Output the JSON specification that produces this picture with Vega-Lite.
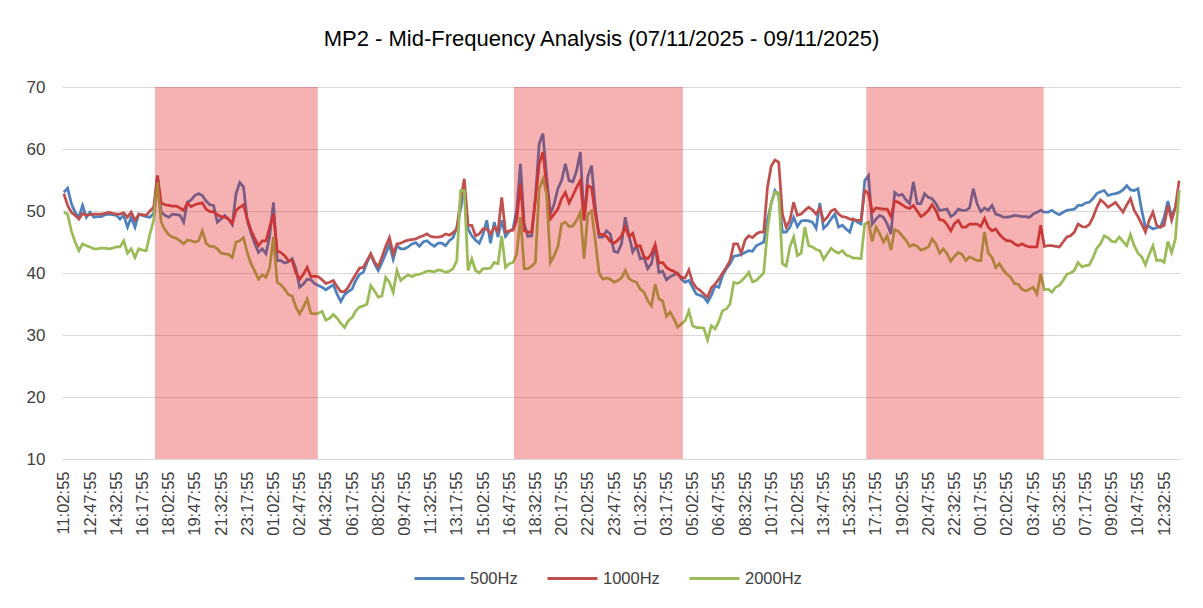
{
"$schema": "https://vega.github.io/schema/vega-lite/v6.json",
"width": 1119, "height": 372,
"autosize": {"type": "none"},
"padding": {"left": 62, "top": 87, "right": 22, "bottom": 149},
"background": "white",
"config": {"view": {"stroke": null}, "font": "Liberation Sans", "axis": {"labelOverlap": false}},
"title": {"text": "MP2 - Mid-Frequency Analysis (07/11/2025 - 09/11/2025)", "fontSize": 22, "fontWeight": "normal", "color": "#000000", "anchor": "middle", "dx": -20, "offset": 27},
"datasets": {
"lines": [
{"t":"2025-11-06T11:02:55","500Hz":53.0,"1000Hz":52.8,"2000Hz":49.8},
{"t":"2025-11-06T11:17:55","500Hz":53.7,"1000Hz":50.9,"2000Hz":49.5},
{"t":"2025-11-06T11:32:55","500Hz":51.2,"1000Hz":49.8,"2000Hz":46.8},
{"t":"2025-11-06T11:47:55","500Hz":49.8,"1000Hz":49.3,"2000Hz":45.0},
{"t":"2025-11-06T12:02:55","500Hz":49.0,"1000Hz":48.7,"2000Hz":43.6},
{"t":"2025-11-06T12:17:55","500Hz":50.9,"1000Hz":49.6,"2000Hz":44.7},
{"t":"2025-11-06T12:32:55","500Hz":49.0,"1000Hz":49.3,"2000Hz":44.4},
{"t":"2025-11-06T12:47:55","500Hz":49.8,"1000Hz":49.4,"2000Hz":44.2},
{"t":"2025-11-06T13:02:55","500Hz":49.0,"1000Hz":49.5,"2000Hz":43.9},
{"t":"2025-11-06T13:17:55","500Hz":49.1,"1000Hz":49.5,"2000Hz":43.9},
{"t":"2025-11-06T13:32:55","500Hz":49.1,"1000Hz":49.5,"2000Hz":44.0},
{"t":"2025-11-06T13:47:55","500Hz":49.4,"1000Hz":49.6,"2000Hz":44.0},
{"t":"2025-11-06T14:02:55","500Hz":49.5,"1000Hz":49.8,"2000Hz":43.9},
{"t":"2025-11-06T14:17:55","500Hz":49.4,"1000Hz":49.6,"2000Hz":44.0},
{"t":"2025-11-06T14:32:55","500Hz":49.3,"1000Hz":49.5,"2000Hz":44.2},
{"t":"2025-11-06T14:47:55","500Hz":48.7,"1000Hz":49.5,"2000Hz":44.2},
{"t":"2025-11-06T15:02:55","500Hz":49.3,"1000Hz":49.7,"2000Hz":45.2},
{"t":"2025-11-06T15:17:55","500Hz":47.4,"1000Hz":49.0,"2000Hz":43.2},
{"t":"2025-11-06T15:32:55","500Hz":49.0,"1000Hz":49.8,"2000Hz":43.9},
{"t":"2025-11-06T15:47:55","500Hz":47.4,"1000Hz":48.5,"2000Hz":42.5},
{"t":"2025-11-06T16:02:55","500Hz":49.5,"1000Hz":49.4,"2000Hz":43.9},
{"t":"2025-11-06T16:17:55","500Hz":49.3,"1000Hz":49.4,"2000Hz":43.7},
{"t":"2025-11-06T16:32:55","500Hz":49.1,"1000Hz":49.3,"2000Hz":43.6},
{"t":"2025-11-06T16:47:55","500Hz":49.0,"1000Hz":50.0,"2000Hz":46.3},
{"t":"2025-11-06T17:02:55","500Hz":49.6,"1000Hz":50.6,"2000Hz":48.5},
{"t":"2025-11-06T17:17:55","500Hz":55.7,"1000Hz":55.7,"2000Hz":54.6},
{"t":"2025-11-06T17:32:55","500Hz":49.8,"1000Hz":51.3,"2000Hz":48.2},
{"t":"2025-11-06T17:47:55","500Hz":49.3,"1000Hz":51.0,"2000Hz":47.0},
{"t":"2025-11-06T18:02:55","500Hz":49.0,"1000Hz":50.9,"2000Hz":46.2},
{"t":"2025-11-06T18:17:55","500Hz":49.5,"1000Hz":50.8,"2000Hz":45.8},
{"t":"2025-11-06T18:32:55","500Hz":49.4,"1000Hz":50.8,"2000Hz":45.6},
{"t":"2025-11-06T18:47:55","500Hz":49.3,"1000Hz":50.5,"2000Hz":45.2},
{"t":"2025-11-06T19:02:55","500Hz":48.2,"1000Hz":50.1,"2000Hz":44.7},
{"t":"2025-11-06T19:17:55","500Hz":51.4,"1000Hz":51.3,"2000Hz":45.3},
{"t":"2025-11-06T19:32:55","500Hz":51.8,"1000Hz":50.7,"2000Hz":45.2},
{"t":"2025-11-06T19:47:55","500Hz":52.5,"1000Hz":51.0,"2000Hz":45.0},
{"t":"2025-11-06T20:02:55","500Hz":52.8,"1000Hz":51.2,"2000Hz":45.2},
{"t":"2025-11-06T20:17:55","500Hz":52.5,"1000Hz":51.3,"2000Hz":46.8},
{"t":"2025-11-06T20:32:55","500Hz":51.6,"1000Hz":50.3,"2000Hz":44.8},
{"t":"2025-11-06T20:47:55","500Hz":51.0,"1000Hz":49.9,"2000Hz":44.3},
{"t":"2025-11-06T21:02:55","500Hz":50.9,"1000Hz":49.9,"2000Hz":44.3},
{"t":"2025-11-06T21:17:55","500Hz":48.2,"1000Hz":49.4,"2000Hz":43.9},
{"t":"2025-11-06T21:32:55","500Hz":48.7,"1000Hz":49.1,"2000Hz":43.2},
{"t":"2025-11-06T21:47:55","500Hz":49.3,"1000Hz":49.0,"2000Hz":43.1},
{"t":"2025-11-06T22:02:55","500Hz":48.7,"1000Hz":48.7,"2000Hz":43.0},
{"t":"2025-11-06T22:17:55","500Hz":47.8,"1000Hz":48.0,"2000Hz":42.5},
{"t":"2025-11-06T22:32:55","500Hz":52.8,"1000Hz":50.1,"2000Hz":45.0},
{"t":"2025-11-06T22:47:55","500Hz":54.6,"1000Hz":50.6,"2000Hz":45.2},
{"t":"2025-11-06T23:02:55","500Hz":53.9,"1000Hz":51.0,"2000Hz":45.7},
{"t":"2025-11-06T23:17:55","500Hz":48.5,"1000Hz":48.7,"2000Hz":43.3},
{"t":"2025-11-06T23:32:55","500Hz":46.4,"1000Hz":46.9,"2000Hz":41.5},
{"t":"2025-11-06T23:47:55","500Hz":44.8,"1000Hz":45.6,"2000Hz":40.3},
{"t":"2025-11-07T00:02:55","500Hz":43.3,"1000Hz":44.4,"2000Hz":39.0},
{"t":"2025-11-07T00:17:55","500Hz":43.9,"1000Hz":45.2,"2000Hz":39.7},
{"t":"2025-11-07T00:32:55","500Hz":43.1,"1000Hz":45.2,"2000Hz":39.3},
{"t":"2025-11-07T00:47:55","500Hz":46.0,"1000Hz":47.4,"2000Hz":40.9},
{"t":"2025-11-07T01:02:55","500Hz":51.4,"1000Hz":49.5,"2000Hz":45.8},
{"t":"2025-11-07T01:17:55","500Hz":42.0,"1000Hz":43.6,"2000Hz":38.5},
{"t":"2025-11-07T01:32:55","500Hz":42.0,"1000Hz":43.3,"2000Hz":38.1},
{"t":"2025-11-07T01:47:55","500Hz":41.6,"1000Hz":42.8,"2000Hz":37.4},
{"t":"2025-11-07T02:02:55","500Hz":41.8,"1000Hz":42.0,"2000Hz":36.5},
{"t":"2025-11-07T02:17:55","500Hz":42.3,"1000Hz":42.0,"2000Hz":36.3},
{"t":"2025-11-07T02:32:55","500Hz":40.7,"1000Hz":40.0,"2000Hz":34.5},
{"t":"2025-11-07T02:47:55","500Hz":37.7,"1000Hz":39.0,"2000Hz":33.4},
{"t":"2025-11-07T03:02:55","500Hz":38.2,"1000Hz":39.8,"2000Hz":34.5},
{"t":"2025-11-07T03:17:55","500Hz":39.0,"1000Hz":40.9,"2000Hz":35.8},
{"t":"2025-11-07T03:32:55","500Hz":38.9,"1000Hz":39.4,"2000Hz":33.5},
{"t":"2025-11-07T03:47:55","500Hz":38.3,"1000Hz":39.5,"2000Hz":33.4},
{"t":"2025-11-07T04:02:55","500Hz":38.0,"1000Hz":39.4,"2000Hz":33.5},
{"t":"2025-11-07T04:17:55","500Hz":37.7,"1000Hz":38.9,"2000Hz":33.8},
{"t":"2025-11-07T04:32:55","500Hz":37.3,"1000Hz":38.3,"2000Hz":32.4},
{"t":"2025-11-07T04:47:55","500Hz":37.7,"1000Hz":38.5,"2000Hz":32.7},
{"t":"2025-11-07T05:02:55","500Hz":38.1,"1000Hz":38.8,"2000Hz":33.3},
{"t":"2025-11-07T05:17:55","500Hz":36.6,"1000Hz":37.8,"2000Hz":32.7},
{"t":"2025-11-07T05:32:55","500Hz":35.4,"1000Hz":37.0,"2000Hz":31.9},
{"t":"2025-11-07T05:47:55","500Hz":36.5,"1000Hz":37.0,"2000Hz":31.2},
{"t":"2025-11-07T06:02:55","500Hz":37.0,"1000Hz":37.7,"2000Hz":32.3},
{"t":"2025-11-07T06:17:55","500Hz":37.4,"1000Hz":38.8,"2000Hz":32.8},
{"t":"2025-11-07T06:32:55","500Hz":38.8,"1000Hz":39.8,"2000Hz":33.9},
{"t":"2025-11-07T06:47:55","500Hz":39.8,"1000Hz":40.8,"2000Hz":34.5},
{"t":"2025-11-07T07:02:55","500Hz":40.1,"1000Hz":40.9,"2000Hz":34.7},
{"t":"2025-11-07T07:17:55","500Hz":41.7,"1000Hz":42.0,"2000Hz":35.0},
{"t":"2025-11-07T07:32:55","500Hz":43.0,"1000Hz":43.1,"2000Hz":38.0},
{"t":"2025-11-07T07:47:55","500Hz":41.5,"1000Hz":41.8,"2000Hz":37.1},
{"t":"2025-11-07T08:02:55","500Hz":40.4,"1000Hz":41.0,"2000Hz":36.1},
{"t":"2025-11-07T08:17:55","500Hz":41.7,"1000Hz":42.6,"2000Hz":36.3},
{"t":"2025-11-07T08:32:55","500Hz":43.1,"1000Hz":44.3,"2000Hz":39.3},
{"t":"2025-11-07T08:47:55","500Hz":44.6,"1000Hz":45.7,"2000Hz":38.5},
{"t":"2025-11-07T09:02:55","500Hz":42.2,"1000Hz":43.1,"2000Hz":36.9},
{"t":"2025-11-07T09:17:55","500Hz":44.4,"1000Hz":44.7,"2000Hz":40.4},
{"t":"2025-11-07T09:32:55","500Hz":43.9,"1000Hz":44.8,"2000Hz":38.8},
{"t":"2025-11-07T09:47:55","500Hz":43.9,"1000Hz":45.1,"2000Hz":39.3},
{"t":"2025-11-07T10:02:55","500Hz":44.2,"1000Hz":45.3,"2000Hz":39.7},
{"t":"2025-11-07T10:17:55","500Hz":44.7,"1000Hz":45.4,"2000Hz":39.4},
{"t":"2025-11-07T10:32:55","500Hz":44.9,"1000Hz":45.5,"2000Hz":39.7},
{"t":"2025-11-07T10:47:55","500Hz":44.3,"1000Hz":45.8,"2000Hz":39.8},
{"t":"2025-11-07T11:02:55","500Hz":45.0,"1000Hz":46.0,"2000Hz":40.0},
{"t":"2025-11-07T11:17:55","500Hz":45.2,"1000Hz":46.3,"2000Hz":40.3},
{"t":"2025-11-07T11:32:55","500Hz":44.7,"1000Hz":45.9,"2000Hz":40.3},
{"t":"2025-11-07T11:47:55","500Hz":44.3,"1000Hz":45.8,"2000Hz":40.2},
{"t":"2025-11-07T12:02:55","500Hz":44.8,"1000Hz":45.8,"2000Hz":40.5},
{"t":"2025-11-07T12:17:55","500Hz":44.8,"1000Hz":45.9,"2000Hz":40.4},
{"t":"2025-11-07T12:32:55","500Hz":44.4,"1000Hz":46.3,"2000Hz":40.1},
{"t":"2025-11-07T12:47:55","500Hz":45.2,"1000Hz":46.1,"2000Hz":40.3},
{"t":"2025-11-07T13:02:55","500Hz":45.7,"1000Hz":46.5,"2000Hz":40.7},
{"t":"2025-11-07T13:17:55","500Hz":47.4,"1000Hz":47.1,"2000Hz":42.0},
{"t":"2025-11-07T13:32:55","500Hz":50.3,"1000Hz":51.7,"2000Hz":53.3},
{"t":"2025-11-07T13:47:55","500Hz":53.6,"1000Hz":55.2,"2000Hz":53.3},
{"t":"2025-11-07T14:02:55","500Hz":47.1,"1000Hz":47.7,"2000Hz":40.4},
{"t":"2025-11-07T14:17:55","500Hz":46.0,"1000Hz":47.7,"2000Hz":42.3},
{"t":"2025-11-07T14:32:55","500Hz":45.3,"1000Hz":46.0,"2000Hz":40.4},
{"t":"2025-11-07T14:47:55","500Hz":44.8,"1000Hz":46.3,"2000Hz":40.0},
{"t":"2025-11-07T15:02:55","500Hz":46.2,"1000Hz":47.1,"2000Hz":40.7},
{"t":"2025-11-07T15:17:55","500Hz":48.5,"1000Hz":47.1,"2000Hz":40.7},
{"t":"2025-11-07T15:32:55","500Hz":44.8,"1000Hz":46.3,"2000Hz":40.8},
{"t":"2025-11-07T15:47:55","500Hz":48.2,"1000Hz":47.4,"2000Hz":41.7},
{"t":"2025-11-07T16:02:55","500Hz":45.8,"1000Hz":46.7,"2000Hz":41.5},
{"t":"2025-11-07T16:17:55","500Hz":48.5,"1000Hz":52.2,"2000Hz":46.0},
{"t":"2025-11-07T16:32:55","500Hz":45.9,"1000Hz":46.6,"2000Hz":40.9},
{"t":"2025-11-07T16:47:55","500Hz":46.7,"1000Hz":46.8,"2000Hz":41.5},
{"t":"2025-11-07T17:02:55","500Hz":47.1,"1000Hz":46.9,"2000Hz":41.7},
{"t":"2025-11-07T17:17:55","500Hz":50.1,"1000Hz":48.5,"2000Hz":43.1},
{"t":"2025-11-07T17:32:55","500Hz":57.6,"1000Hz":54.4,"2000Hz":49.0},
{"t":"2025-11-07T17:47:55","500Hz":47.9,"1000Hz":46.8,"2000Hz":40.7},
{"t":"2025-11-07T18:02:55","500Hz":45.9,"1000Hz":46.6,"2000Hz":40.7},
{"t":"2025-11-07T18:17:55","500Hz":46.0,"1000Hz":46.6,"2000Hz":41.1},
{"t":"2025-11-07T18:32:55","500Hz":52.2,"1000Hz":51.7,"2000Hz":41.7},
{"t":"2025-11-07T18:47:55","500Hz":60.8,"1000Hz":57.6,"2000Hz":53.6},
{"t":"2025-11-07T19:02:55","500Hz":62.5,"1000Hz":59.5,"2000Hz":55.2},
{"t":"2025-11-07T19:17:55","500Hz":55.5,"1000Hz":53.8,"2000Hz":52.8},
{"t":"2025-11-07T19:32:55","500Hz":49.5,"1000Hz":48.7,"2000Hz":41.7},
{"t":"2025-11-07T19:47:55","500Hz":51.1,"1000Hz":49.5,"2000Hz":42.8},
{"t":"2025-11-07T20:02:55","500Hz":53.6,"1000Hz":50.3,"2000Hz":44.2},
{"t":"2025-11-07T20:17:55","500Hz":54.9,"1000Hz":52.0,"2000Hz":47.9},
{"t":"2025-11-07T20:32:55","500Hz":57.6,"1000Hz":53.0,"2000Hz":48.2},
{"t":"2025-11-07T20:47:55","500Hz":54.9,"1000Hz":51.3,"2000Hz":47.5},
{"t":"2025-11-07T21:02:55","500Hz":54.7,"1000Hz":52.5,"2000Hz":47.6},
{"t":"2025-11-07T21:17:55","500Hz":56.5,"1000Hz":53.8,"2000Hz":48.5},
{"t":"2025-11-07T21:32:55","500Hz":59.5,"1000Hz":54.9,"2000Hz":49.8},
{"t":"2025-11-07T21:47:55","500Hz":48.5,"1000Hz":48.5,"2000Hz":42.3},
{"t":"2025-11-07T22:02:55","500Hz":55.5,"1000Hz":54.1,"2000Hz":49.5},
{"t":"2025-11-07T22:17:55","500Hz":57.3,"1000Hz":53.8,"2000Hz":50.0},
{"t":"2025-11-07T22:32:55","500Hz":50.6,"1000Hz":49.5,"2000Hz":45.2},
{"t":"2025-11-07T22:47:55","500Hz":45.8,"1000Hz":46.3,"2000Hz":40.0},
{"t":"2025-11-07T23:02:55","500Hz":45.8,"1000Hz":46.2,"2000Hz":39.0},
{"t":"2025-11-07T23:17:55","500Hz":46.8,"1000Hz":45.9,"2000Hz":39.2},
{"t":"2025-11-07T23:32:55","500Hz":46.3,"1000Hz":45.1,"2000Hz":39.0},
{"t":"2025-11-07T23:47:55","500Hz":43.5,"1000Hz":44.8,"2000Hz":38.5},
{"t":"2025-11-08T00:02:55","500Hz":43.3,"1000Hz":45.3,"2000Hz":38.8},
{"t":"2025-11-08T00:17:55","500Hz":44.7,"1000Hz":46.0,"2000Hz":39.2},
{"t":"2025-11-08T00:32:55","500Hz":49.0,"1000Hz":47.4,"2000Hz":40.4},
{"t":"2025-11-08T00:47:55","500Hz":46.0,"1000Hz":45.9,"2000Hz":39.1},
{"t":"2025-11-08T01:02:55","500Hz":43.4,"1000Hz":46.4,"2000Hz":38.7},
{"t":"2025-11-08T01:17:55","500Hz":44.4,"1000Hz":44.3,"2000Hz":38.5},
{"t":"2025-11-08T01:32:55","500Hz":42.3,"1000Hz":44.4,"2000Hz":37.4},
{"t":"2025-11-08T01:47:55","500Hz":42.5,"1000Hz":42.6,"2000Hz":36.9},
{"t":"2025-11-08T02:02:55","500Hz":40.7,"1000Hz":42.3,"2000Hz":35.5},
{"t":"2025-11-08T02:17:55","500Hz":41.5,"1000Hz":43.1,"2000Hz":34.7},
{"t":"2025-11-08T02:32:55","500Hz":44.4,"1000Hz":44.6,"2000Hz":38.2},
{"t":"2025-11-08T02:47:55","500Hz":40.1,"1000Hz":41.6,"2000Hz":35.8},
{"t":"2025-11-08T03:02:55","500Hz":40.3,"1000Hz":41.7,"2000Hz":35.5},
{"t":"2025-11-08T03:17:55","500Hz":38.9,"1000Hz":40.9,"2000Hz":33.0},
{"t":"2025-11-08T03:32:55","500Hz":39.4,"1000Hz":40.5,"2000Hz":33.7},
{"t":"2025-11-08T03:47:55","500Hz":39.7,"1000Hz":40.3,"2000Hz":32.6},
{"t":"2025-11-08T04:02:55","500Hz":40.0,"1000Hz":39.8,"2000Hz":31.3},
{"t":"2025-11-08T04:17:55","500Hz":39.0,"1000Hz":39.3,"2000Hz":31.8},
{"t":"2025-11-08T04:32:55","500Hz":38.5,"1000Hz":39.2,"2000Hz":32.3},
{"t":"2025-11-08T04:47:55","500Hz":38.8,"1000Hz":40.5,"2000Hz":33.9},
{"t":"2025-11-08T05:02:55","500Hz":37.7,"1000Hz":38.5,"2000Hz":31.5},
{"t":"2025-11-08T05:17:55","500Hz":36.6,"1000Hz":37.6,"2000Hz":31.2},
{"t":"2025-11-08T05:32:55","500Hz":36.4,"1000Hz":37.2,"2000Hz":31.2},
{"t":"2025-11-08T05:47:55","500Hz":36.1,"1000Hz":36.6,"2000Hz":31.1},
{"t":"2025-11-08T06:02:55","500Hz":35.3,"1000Hz":36.1,"2000Hz":29.2},
{"t":"2025-11-08T06:17:55","500Hz":36.4,"1000Hz":37.6,"2000Hz":31.5},
{"t":"2025-11-08T06:32:55","500Hz":37.9,"1000Hz":38.2,"2000Hz":31.0},
{"t":"2025-11-08T06:47:55","500Hz":37.7,"1000Hz":39.0,"2000Hz":32.2},
{"t":"2025-11-08T07:02:55","500Hz":39.6,"1000Hz":40.0,"2000Hz":33.9},
{"t":"2025-11-08T07:17:55","500Hz":40.7,"1000Hz":40.9,"2000Hz":34.2},
{"t":"2025-11-08T07:32:55","500Hz":41.5,"1000Hz":42.0,"2000Hz":35.0},
{"t":"2025-11-08T07:47:55","500Hz":42.7,"1000Hz":44.7,"2000Hz":38.5},
{"t":"2025-11-08T08:02:55","500Hz":42.8,"1000Hz":44.7,"2000Hz":38.3},
{"t":"2025-11-08T08:17:55","500Hz":43.0,"1000Hz":43.2,"2000Hz":38.7},
{"t":"2025-11-08T08:32:55","500Hz":43.3,"1000Hz":45.3,"2000Hz":39.3},
{"t":"2025-11-08T08:47:55","500Hz":43.6,"1000Hz":46.0,"2000Hz":40.1},
{"t":"2025-11-08T09:02:55","500Hz":43.5,"1000Hz":45.7,"2000Hz":38.6},
{"t":"2025-11-08T09:17:55","500Hz":44.4,"1000Hz":46.3,"2000Hz":38.8},
{"t":"2025-11-08T09:32:55","500Hz":44.7,"1000Hz":46.6,"2000Hz":39.4},
{"t":"2025-11-08T09:47:55","500Hz":45.0,"1000Hz":46.6,"2000Hz":40.0},
{"t":"2025-11-08T10:02:55","500Hz":48.5,"1000Hz":53.8,"2000Hz":46.8},
{"t":"2025-11-08T10:17:55","500Hz":51.2,"1000Hz":57.2,"2000Hz":51.4},
{"t":"2025-11-08T10:32:55","500Hz":53.3,"1000Hz":58.2,"2000Hz":53.0},
{"t":"2025-11-08T10:47:55","500Hz":52.5,"1000Hz":57.9,"2000Hz":52.9},
{"t":"2025-11-08T11:02:55","500Hz":46.6,"1000Hz":49.5,"2000Hz":41.5},
{"t":"2025-11-08T11:17:55","500Hz":46.6,"1000Hz":47.4,"2000Hz":41.1},
{"t":"2025-11-08T11:32:55","500Hz":47.4,"1000Hz":48.5,"2000Hz":44.2},
{"t":"2025-11-08T11:47:55","500Hz":49.0,"1000Hz":51.4,"2000Hz":45.8},
{"t":"2025-11-08T12:02:55","500Hz":47.5,"1000Hz":49.3,"2000Hz":42.8},
{"t":"2025-11-08T12:17:55","500Hz":48.4,"1000Hz":49.5,"2000Hz":43.2},
{"t":"2025-11-08T12:32:55","500Hz":48.5,"1000Hz":50.1,"2000Hz":47.4},
{"t":"2025-11-08T12:47:55","500Hz":48.4,"1000Hz":50.6,"2000Hz":44.4},
{"t":"2025-11-08T13:02:55","500Hz":48.2,"1000Hz":50.2,"2000Hz":44.2},
{"t":"2025-11-08T13:17:55","500Hz":47.2,"1000Hz":49.5,"2000Hz":43.8},
{"t":"2025-11-08T13:32:55","500Hz":51.3,"1000Hz":50.5,"2000Hz":43.6},
{"t":"2025-11-08T13:47:55","500Hz":47.2,"1000Hz":48.4,"2000Hz":42.2},
{"t":"2025-11-08T14:02:55","500Hz":47.8,"1000Hz":49.0,"2000Hz":43.1},
{"t":"2025-11-08T14:17:55","500Hz":48.7,"1000Hz":50.0,"2000Hz":44.0},
{"t":"2025-11-08T14:32:55","500Hz":49.5,"1000Hz":50.3,"2000Hz":43.5},
{"t":"2025-11-08T14:47:55","500Hz":47.4,"1000Hz":49.5,"2000Hz":43.2},
{"t":"2025-11-08T15:02:55","500Hz":47.7,"1000Hz":49.1,"2000Hz":43.6},
{"t":"2025-11-08T15:17:55","500Hz":47.1,"1000Hz":49.0,"2000Hz":42.9},
{"t":"2025-11-08T15:32:55","500Hz":46.6,"1000Hz":48.7,"2000Hz":42.7},
{"t":"2025-11-08T15:47:55","500Hz":48.7,"1000Hz":48.6,"2000Hz":42.4},
{"t":"2025-11-08T16:02:55","500Hz":48.2,"1000Hz":48.5,"2000Hz":42.4},
{"t":"2025-11-08T16:17:55","500Hz":47.9,"1000Hz":48.5,"2000Hz":42.3},
{"t":"2025-11-08T16:32:55","500Hz":54.9,"1000Hz":53.3,"2000Hz":47.9},
{"t":"2025-11-08T16:47:55","500Hz":55.7,"1000Hz":52.8,"2000Hz":48.2},
{"t":"2025-11-08T17:02:55","500Hz":47.9,"1000Hz":49.8,"2000Hz":45.1},
{"t":"2025-11-08T17:17:55","500Hz":48.7,"1000Hz":50.5,"2000Hz":47.4},
{"t":"2025-11-08T17:32:55","500Hz":49.3,"1000Hz":50.4,"2000Hz":46.3},
{"t":"2025-11-08T17:47:55","500Hz":49.0,"1000Hz":50.3,"2000Hz":45.0},
{"t":"2025-11-08T18:02:55","500Hz":47.9,"1000Hz":50.3,"2000Hz":46.0},
{"t":"2025-11-08T18:17:55","500Hz":46.3,"1000Hz":49.1,"2000Hz":43.7},
{"t":"2025-11-08T18:32:55","500Hz":53.0,"1000Hz":51.6,"2000Hz":47.0},
{"t":"2025-11-08T18:47:55","500Hz":52.5,"1000Hz":51.4,"2000Hz":46.7},
{"t":"2025-11-08T19:02:55","500Hz":52.7,"1000Hz":51.0,"2000Hz":46.0},
{"t":"2025-11-08T19:17:55","500Hz":51.8,"1000Hz":50.6,"2000Hz":45.3},
{"t":"2025-11-08T19:32:55","500Hz":51.2,"1000Hz":50.4,"2000Hz":44.3},
{"t":"2025-11-08T19:47:55","500Hz":54.7,"1000Hz":50.9,"2000Hz":44.6},
{"t":"2025-11-08T20:02:55","500Hz":51.2,"1000Hz":50.0,"2000Hz":44.3},
{"t":"2025-11-08T20:17:55","500Hz":51.2,"1000Hz":49.1,"2000Hz":43.7},
{"t":"2025-11-08T20:32:55","500Hz":52.8,"1000Hz":49.5,"2000Hz":43.9},
{"t":"2025-11-08T20:47:55","500Hz":52.2,"1000Hz":50.1,"2000Hz":44.2},
{"t":"2025-11-08T21:02:55","500Hz":52.0,"1000Hz":51.0,"2000Hz":45.5},
{"t":"2025-11-08T21:17:55","500Hz":51.2,"1000Hz":50.1,"2000Hz":44.7},
{"t":"2025-11-08T21:32:55","500Hz":50.1,"1000Hz":48.6,"2000Hz":43.2},
{"t":"2025-11-08T21:47:55","500Hz":50.2,"1000Hz":48.5,"2000Hz":43.9},
{"t":"2025-11-08T22:02:55","500Hz":50.3,"1000Hz":47.8,"2000Hz":43.1},
{"t":"2025-11-08T22:17:55","500Hz":49.1,"1000Hz":46.8,"2000Hz":41.9},
{"t":"2025-11-08T22:32:55","500Hz":49.5,"1000Hz":48.0,"2000Hz":42.7},
{"t":"2025-11-08T22:47:55","500Hz":50.3,"1000Hz":48.5,"2000Hz":43.3},
{"t":"2025-11-08T23:02:55","500Hz":50.1,"1000Hz":47.4,"2000Hz":43.0},
{"t":"2025-11-08T23:17:55","500Hz":50.1,"1000Hz":47.4,"2000Hz":42.0},
{"t":"2025-11-08T23:32:55","500Hz":50.5,"1000Hz":47.9,"2000Hz":42.6},
{"t":"2025-11-08T23:47:55","500Hz":53.6,"1000Hz":47.9,"2000Hz":42.3},
{"t":"2025-11-09T00:02:55","500Hz":51.2,"1000Hz":47.9,"2000Hz":42.0},
{"t":"2025-11-09T00:17:55","500Hz":49.9,"1000Hz":47.5,"2000Hz":42.0},
{"t":"2025-11-09T00:32:55","500Hz":50.5,"1000Hz":48.8,"2000Hz":46.6},
{"t":"2025-11-09T00:47:55","500Hz":50.1,"1000Hz":47.4,"2000Hz":43.2},
{"t":"2025-11-09T01:02:55","500Hz":50.9,"1000Hz":46.8,"2000Hz":42.5},
{"t":"2025-11-09T01:17:55","500Hz":49.5,"1000Hz":47.1,"2000Hz":40.9},
{"t":"2025-11-09T01:32:55","500Hz":49.3,"1000Hz":46.2,"2000Hz":41.5},
{"t":"2025-11-09T01:47:55","500Hz":49.0,"1000Hz":45.6,"2000Hz":40.5},
{"t":"2025-11-09T02:02:55","500Hz":49.0,"1000Hz":45.2,"2000Hz":39.8},
{"t":"2025-11-09T02:17:55","500Hz":49.1,"1000Hz":45.2,"2000Hz":39.3},
{"t":"2025-11-09T02:32:55","500Hz":49.3,"1000Hz":44.7,"2000Hz":38.3},
{"t":"2025-11-09T02:47:55","500Hz":49.2,"1000Hz":44.4,"2000Hz":38.2},
{"t":"2025-11-09T03:02:55","500Hz":49.1,"1000Hz":44.7,"2000Hz":37.4},
{"t":"2025-11-09T03:17:55","500Hz":49.1,"1000Hz":44.4,"2000Hz":37.1},
{"t":"2025-11-09T03:32:55","500Hz":49.0,"1000Hz":44.2,"2000Hz":37.4},
{"t":"2025-11-09T03:47:55","500Hz":49.5,"1000Hz":44.2,"2000Hz":37.7},
{"t":"2025-11-09T04:02:55","500Hz":49.8,"1000Hz":44.2,"2000Hz":36.6},
{"t":"2025-11-09T04:17:55","500Hz":50.1,"1000Hz":47.7,"2000Hz":39.8},
{"t":"2025-11-09T04:32:55","500Hz":49.8,"1000Hz":44.3,"2000Hz":37.3},
{"t":"2025-11-09T04:47:55","500Hz":49.8,"1000Hz":44.4,"2000Hz":37.4},
{"t":"2025-11-09T05:02:55","500Hz":50.1,"1000Hz":44.4,"2000Hz":36.9},
{"t":"2025-11-09T05:17:55","500Hz":49.7,"1000Hz":44.3,"2000Hz":37.7},
{"t":"2025-11-09T05:32:55","500Hz":49.4,"1000Hz":44.2,"2000Hz":38.0},
{"t":"2025-11-09T05:47:55","500Hz":49.8,"1000Hz":45.0,"2000Hz":38.8},
{"t":"2025-11-09T06:02:55","500Hz":50.1,"1000Hz":45.8,"2000Hz":39.8},
{"t":"2025-11-09T06:17:55","500Hz":50.2,"1000Hz":46.0,"2000Hz":40.0},
{"t":"2025-11-09T06:32:55","500Hz":50.3,"1000Hz":46.6,"2000Hz":40.4},
{"t":"2025-11-09T06:47:55","500Hz":50.9,"1000Hz":47.9,"2000Hz":41.7},
{"t":"2025-11-09T07:02:55","500Hz":50.9,"1000Hz":47.5,"2000Hz":41.0},
{"t":"2025-11-09T07:17:55","500Hz":51.3,"1000Hz":47.4,"2000Hz":41.2},
{"t":"2025-11-09T07:32:55","500Hz":51.4,"1000Hz":47.8,"2000Hz":41.3},
{"t":"2025-11-09T07:47:55","500Hz":52.0,"1000Hz":49.0,"2000Hz":42.5},
{"t":"2025-11-09T08:02:55","500Hz":52.8,"1000Hz":50.6,"2000Hz":44.0},
{"t":"2025-11-09T08:17:55","500Hz":53.1,"1000Hz":51.8,"2000Hz":44.7},
{"t":"2025-11-09T08:32:55","500Hz":53.3,"1000Hz":51.3,"2000Hz":46.0},
{"t":"2025-11-09T08:47:55","500Hz":52.5,"1000Hz":50.6,"2000Hz":45.7},
{"t":"2025-11-09T09:02:55","500Hz":52.7,"1000Hz":51.0,"2000Hz":45.1},
{"t":"2025-11-09T09:17:55","500Hz":52.8,"1000Hz":51.4,"2000Hz":45.0},
{"t":"2025-11-09T09:32:55","500Hz":53.0,"1000Hz":50.6,"2000Hz":45.8},
{"t":"2025-11-09T09:47:55","500Hz":53.4,"1000Hz":49.8,"2000Hz":45.1},
{"t":"2025-11-09T10:02:55","500Hz":54.1,"1000Hz":51.0,"2000Hz":44.4},
{"t":"2025-11-09T10:17:55","500Hz":53.4,"1000Hz":52.0,"2000Hz":46.2},
{"t":"2025-11-09T10:32:55","500Hz":53.3,"1000Hz":50.1,"2000Hz":44.4},
{"t":"2025-11-09T10:47:55","500Hz":53.6,"1000Hz":49.1,"2000Hz":43.2},
{"t":"2025-11-09T11:02:55","500Hz":50.1,"1000Hz":47.9,"2000Hz":42.6},
{"t":"2025-11-09T11:17:55","500Hz":47.4,"1000Hz":46.6,"2000Hz":41.3},
{"t":"2025-11-09T11:32:55","500Hz":47.5,"1000Hz":48.5,"2000Hz":43.0},
{"t":"2025-11-09T11:47:55","500Hz":47.1,"1000Hz":49.8,"2000Hz":44.4},
{"t":"2025-11-09T12:02:55","500Hz":47.3,"1000Hz":47.7,"2000Hz":42.0},
{"t":"2025-11-09T12:17:55","500Hz":47.4,"1000Hz":47.4,"2000Hz":42.1},
{"t":"2025-11-09T12:32:55","500Hz":49.0,"1000Hz":47.7,"2000Hz":41.7},
{"t":"2025-11-09T12:47:55","500Hz":51.6,"1000Hz":50.9,"2000Hz":45.1},
{"t":"2025-11-09T13:02:55","500Hz":49.1,"1000Hz":48.5,"2000Hz":43.3},
{"t":"2025-11-09T13:17:55","500Hz":50.6,"1000Hz":50.6,"2000Hz":45.5},
{"t":"2025-11-09T13:32:55","500Hz":53.3,"1000Hz":54.9,"2000Hz":53.3}
],
"nights": [
{"start":"2025-11-06T17:08:00","end":"2025-11-07T04:01:00"},
{"start":"2025-11-07T17:07:00","end":"2025-11-08T04:24:00"},
{"start":"2025-11-08T16:39:00","end":"2025-11-09T04:30:00"}
]
},
"layer": [
{
"data": {"name": "lines"},
"transform": [{"fold": ["500Hz", "1000Hz", "2000Hz"], "as": ["series", "value"]}],
"mark": {"type": "line", "strokeWidth": 2.75},
"encoding": {
"x": {"field": "t", "type": "temporal",
"scale": {"nice": false, "domain": [{"year":2025,"month":11,"date":6,"hours":10,"minutes":55,"seconds":25},{"year":2025,"month":11,"date":9,"hours":13,"minutes":40,"seconds":25}]},
"axis": {"title": null, "format": "%H:%M:%S", "labelAngle": 270, "labelFontSize": 16.5, "labelColor": "#404040", "ticks": false, "grid": false, "domainColor": "#D9D9D9", "labelPadding": 12, "labelOverlap": false, "labelFlush": false, "tickCount": 100,
"values": [
{"year":2025,"month":11,"date":6,"hours":11,"minutes":2,"seconds":55},
{"year":2025,"month":11,"date":6,"hours":12,"minutes":47,"seconds":55},
{"year":2025,"month":11,"date":6,"hours":14,"minutes":32,"seconds":55},
{"year":2025,"month":11,"date":6,"hours":16,"minutes":17,"seconds":55},
{"year":2025,"month":11,"date":6,"hours":18,"minutes":2,"seconds":55},
{"year":2025,"month":11,"date":6,"hours":19,"minutes":47,"seconds":55},
{"year":2025,"month":11,"date":6,"hours":21,"minutes":32,"seconds":55},
{"year":2025,"month":11,"date":6,"hours":23,"minutes":17,"seconds":55},
{"year":2025,"month":11,"date":7,"hours":1,"minutes":2,"seconds":55},
{"year":2025,"month":11,"date":7,"hours":2,"minutes":47,"seconds":55},
{"year":2025,"month":11,"date":7,"hours":4,"minutes":32,"seconds":55},
{"year":2025,"month":11,"date":7,"hours":6,"minutes":17,"seconds":55},
{"year":2025,"month":11,"date":7,"hours":8,"minutes":2,"seconds":55},
{"year":2025,"month":11,"date":7,"hours":9,"minutes":47,"seconds":55},
{"year":2025,"month":11,"date":7,"hours":11,"minutes":32,"seconds":55},
{"year":2025,"month":11,"date":7,"hours":13,"minutes":17,"seconds":55},
{"year":2025,"month":11,"date":7,"hours":15,"minutes":2,"seconds":55},
{"year":2025,"month":11,"date":7,"hours":16,"minutes":47,"seconds":55},
{"year":2025,"month":11,"date":7,"hours":18,"minutes":32,"seconds":55},
{"year":2025,"month":11,"date":7,"hours":20,"minutes":17,"seconds":55},
{"year":2025,"month":11,"date":7,"hours":22,"minutes":2,"seconds":55},
{"year":2025,"month":11,"date":7,"hours":23,"minutes":47,"seconds":55},
{"year":2025,"month":11,"date":8,"hours":1,"minutes":32,"seconds":55},
{"year":2025,"month":11,"date":8,"hours":3,"minutes":17,"seconds":55},
{"year":2025,"month":11,"date":8,"hours":5,"minutes":2,"seconds":55},
{"year":2025,"month":11,"date":8,"hours":6,"minutes":47,"seconds":55},
{"year":2025,"month":11,"date":8,"hours":8,"minutes":32,"seconds":55},
{"year":2025,"month":11,"date":8,"hours":10,"minutes":17,"seconds":55},
{"year":2025,"month":11,"date":8,"hours":12,"minutes":2,"seconds":55},
{"year":2025,"month":11,"date":8,"hours":13,"minutes":47,"seconds":55},
{"year":2025,"month":11,"date":8,"hours":15,"minutes":32,"seconds":55},
{"year":2025,"month":11,"date":8,"hours":17,"minutes":17,"seconds":55},
{"year":2025,"month":11,"date":8,"hours":19,"minutes":2,"seconds":55},
{"year":2025,"month":11,"date":8,"hours":20,"minutes":47,"seconds":55},
{"year":2025,"month":11,"date":8,"hours":22,"minutes":32,"seconds":55},
{"year":2025,"month":11,"date":9,"hours":0,"minutes":17,"seconds":55},
{"year":2025,"month":11,"date":9,"hours":2,"minutes":2,"seconds":55},
{"year":2025,"month":11,"date":9,"hours":3,"minutes":47,"seconds":55},
{"year":2025,"month":11,"date":9,"hours":5,"minutes":32,"seconds":55},
{"year":2025,"month":11,"date":9,"hours":7,"minutes":17,"seconds":55},
{"year":2025,"month":11,"date":9,"hours":9,"minutes":2,"seconds":55},
{"year":2025,"month":11,"date":9,"hours":10,"minutes":47,"seconds":55},
{"year":2025,"month":11,"date":9,"hours":12,"minutes":32,"seconds":55}
]}},
"y": {"field": "value", "type": "quantitative",
"scale": {"domain": [10, 70], "nice": false},
"axis": {"title": null, "values": [10, 20, 30, 40, 50, 60, 70], "grid": true, "gridColor": "#D9D9D9", "domain": false, "ticks": false, "labelPadding": 17, "labelFontSize": 17, "labelColor": "#404040"}},
"color": {"field": "series", "type": "nominal",
"scale": {"domain": ["500Hz", "1000Hz", "2000Hz"], "range": ["#4F81BD", "#C0504D", "#9BBB59"]},
"legend": {"title": null, "orient": "none", "legendX": 351, "legendY": 465, "direction": "horizontal", "symbolType": "stroke", "symbolSize": 2500, "symbolStrokeWidth": 3, "labelFontSize": 16.5, "labelColor": "#404040", "columnPadding": 23, "labelOffset": 4}}
}
},
{
"data": {"name": "nights"},
"mark": {"type": "rect", "color": "#E00000", "opacity": 0.3},
"encoding": {
"x": {"field": "start", "type": "temporal"},
"x2": {"field": "end"},
"y": {"datum": 70, "type": "quantitative"},
"y2": {"datum": 10}
}
}
]
}
